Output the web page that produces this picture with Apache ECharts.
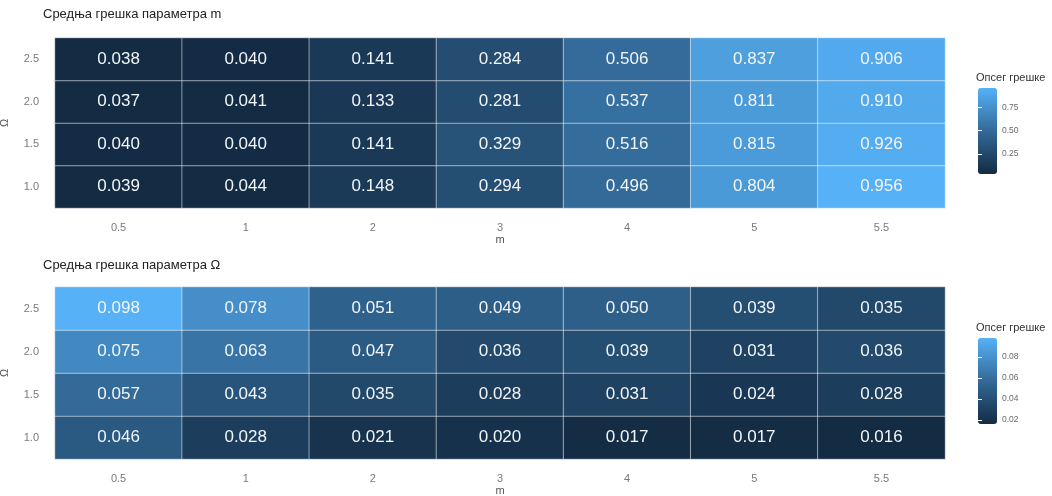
<!DOCTYPE html>
<html>
<head>
<meta charset="utf-8">
<script src="https://cdn.jsdelivr.net/npm/echarts@6/dist/echarts.min.js"></script>
<style>
  html, body { margin: 0; padding: 0; background: #ffffff; }
  #chart { width: 1052px; height: 496px; }
</style>
</head>
<body>
<div id="chart"></div>
<script>
// Categories on both heatmaps
const mValues = ['0.5', '1', '2', '3', '4', '5', '5.5'];
const omegaValues = ['1.0', '1.5', '2.0', '2.5'];

// Mean error of parameter m, one row per Ω (from Ω = 1.0 up to 2.5)
const errM_O10 = [0.039, 0.044, 0.148, 0.294, 0.496, 0.804, 0.956];
const errM_O15 = [0.040, 0.040, 0.141, 0.329, 0.516, 0.815, 0.926];
const errM_O20 = [0.037, 0.041, 0.133, 0.281, 0.537, 0.811, 0.910];
const errM_O25 = [0.038, 0.040, 0.141, 0.284, 0.506, 0.837, 0.906];

// Mean error of parameter Ω, one row per Ω
const errO_O10 = [0.046, 0.028, 0.021, 0.020, 0.017, 0.017, 0.016];
const errO_O15 = [0.057, 0.043, 0.035, 0.028, 0.031, 0.024, 0.028];
const errO_O20 = [0.075, 0.063, 0.047, 0.036, 0.039, 0.031, 0.036];
const errO_O25 = [0.098, 0.078, 0.051, 0.049, 0.050, 0.039, 0.035];

// Colour bar tick labels
const ticksM = [0.25, 0.50, 0.75];
const ticksO = [0.02, 0.04, 0.06, 0.08];

const titleM = 'Средња грешка параметра m';
const titleO = 'Средња грешка параметра Ω';
const legendTitle = 'Опсег грешке';

function toCells(rows) {
  const out = [];
  rows.forEach((row, yi) => row.forEach((v, xi) => out.push([xi, yi, v])));
  return out;
}
const cellsM = toCells([errM_O10, errM_O15, errM_O20, errM_O25]);
const cellsO = toCells([errO_O10, errO_O15, errO_O20, errO_O25]);
const extent = cells => [Math.min(...cells.map(c => c[2])), Math.max(...cells.map(c => c[2]))];
const [minM, maxM] = extent(cellsM);
const [minO, maxO] = extent(cellsO);

const FONT = '"Liberation Sans", Arial, sans-serif';
const gradient = ['#132B43', '#336A98', '#56B1F7'];

const panels = [
  { top: 38, height: 170, barTop: 88 },
  { top: 287, height: 172, barTop: 338 }
];
const BAR_LEFT = 978, BAR_W = 19, BAR_H = 86;

function xAxisFor(gi) {
  return {
    type: 'category', gridIndex: gi, data: mValues, position: 'bottom',
    axisLine: { show: false }, axisTick: { show: false }, splitLine: { show: false },
    axisLabel: { color: '#7a7a7a', fontSize: 11, fontFamily: FONT, margin: 14 },
    name: 'm', nameLocation: 'middle', nameGap: 26,
    nameTextStyle: { color: '#555', fontSize: 11, fontFamily: FONT }
  };
}
function yAxisFor(gi) {
  return {
    type: 'category', gridIndex: gi, data: omegaValues,
    axisLine: { show: false }, axisTick: { show: false }, splitLine: { show: false },
    axisLabel: { color: '#7a7a7a', fontSize: 11, fontFamily: FONT, margin: 16 },
    name: 'Ω', nameLocation: 'middle', nameGap: 45, nameRotate: 90, nameMoveOverlap: false,
    nameTextStyle: { color: '#555', fontSize: 11, fontFamily: FONT }
  };
}
// Colour bar axes: labels on the right, short white ticks on both edges
function barAxes(gi, lo, hi, ticks, digits) {
  const common = {
    type: 'value', gridIndex: gi, min: lo, max: hi, z: 10,
    axisLine: { show: false }, splitLine: { show: false },
    axisTick: { show: true, inside: true, length: 4, customValues: ticks, lineStyle: { color: '#ffffff', width: 1 } }
  };
  return [
    Object.assign({}, common, {
      position: 'right',
      axisLabel: { show: true, customValues: ticks, margin: 5, color: '#6a6a6a', fontSize: 8.5, fontFamily: FONT,
        formatter: v => v.toFixed(digits) }
    }),
    Object.assign({}, common, { position: 'left', axisLabel: { show: false } })
  ];
}

const chart = echarts.init(document.getElementById('chart'), null, { renderer: 'canvas' });

const titleStyle = { fontSize: 13, fontWeight: 'normal', color: '#222', fontFamily: FONT };
const legendTitleStyle = { fontSize: 11, fontWeight: 'normal', color: '#333', fontFamily: FONT };

const option = {
  backgroundColor: '#ffffff',
  animation: false,
  title: [
    { text: titleM, left: 43, top: 8, padding: 0, textStyle: titleStyle },
    { text: titleO, left: 43, top: 259, padding: 0, textStyle: titleStyle },
    { text: legendTitle, left: 976, top: 72, padding: 0, textStyle: legendTitleStyle },
    { text: legendTitle, left: 976, top: 322, padding: 0, textStyle: legendTitleStyle }
  ],
  grid: [
    { left: 55, top: panels[0].top, width: 890, height: panels[0].height, outerBoundsMode: 'none' },
    { left: 55, top: panels[1].top, width: 890, height: panels[1].height, outerBoundsMode: 'none' },
    { left: BAR_LEFT, top: panels[0].barTop, width: BAR_W, height: BAR_H, outerBoundsMode: 'none' },
    { left: BAR_LEFT, top: panels[1].barTop, width: BAR_W, height: BAR_H, outerBoundsMode: 'none' }
  ],
  xAxis: [
    xAxisFor(0), xAxisFor(1),
    { type: 'value', gridIndex: 2, show: false },
    { type: 'value', gridIndex: 3, show: false }
  ],
  yAxis: [
    yAxisFor(0), yAxisFor(1),
    ...barAxes(2, minM, maxM, ticksM, 2),
    ...barAxes(3, minO, maxO, ticksO, 2)
  ],
  visualMap: [
    {
      type: 'continuous', seriesIndex: 0, min: minM, max: maxM, calculable: false,
      left: BAR_LEFT, top: panels[0].barTop, itemWidth: BAR_W, itemHeight: BAR_H,
      padding: 0, text: null, showLabel: false, inRange: { color: gradient }, hoverLink: false
    },
    {
      type: 'continuous', seriesIndex: 1, min: minO, max: maxO, calculable: false,
      left: BAR_LEFT, top: panels[1].barTop, itemWidth: BAR_W, itemHeight: BAR_H,
      padding: 0, text: null, showLabel: false, inRange: { color: gradient }, hoverLink: false
    }
  ],
  series: [
    {
      type: 'heatmap', xAxisIndex: 0, yAxisIndex: 0, data: cellsM,
      itemStyle: { borderColor: 'rgba(255,255,255,0.5)', borderWidth: 1 },
      label: { show: true, color: '#f2f5f8', fontSize: 17, fontFamily: FONT, formatter: p => p.value[2].toFixed(3) },
      emphasis: { disabled: true }
    },
    {
      type: 'heatmap', xAxisIndex: 1, yAxisIndex: 1, data: cellsO,
      itemStyle: { borderColor: 'rgba(255,255,255,0.5)', borderWidth: 1 },
      label: { show: true, color: '#f2f5f8', fontSize: 17, fontFamily: FONT, formatter: p => p.value[2].toFixed(3) },
      emphasis: { disabled: true }
    }
  ]
};

chart.setOption(option);
</script>
</body>
</html>
